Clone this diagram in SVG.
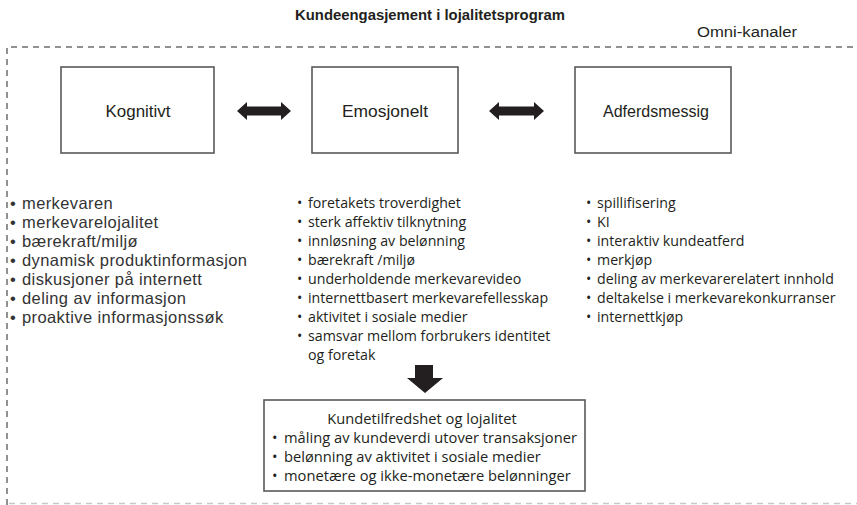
<svg xmlns="http://www.w3.org/2000/svg" width="857" height="505" viewBox="0 0 857 505">
<style>
.bg{fill:#ffffff}
.box{fill:#ffffff;stroke:#58595b;stroke-width:1.6}
.title{font-family:"Liberation Sans Narrow","Liberation Sans",Arial,sans-serif;font-weight:bold;font-size:14.5px;fill:#231f20}
.cond{font-family:"Liberation Sans Narrow","Liberation Sans",Arial,sans-serif;font-size:17px;fill:#231f20}
.omni{font-family:"Liberation Sans Narrow","Liberation Sans",Arial,sans-serif;font-size:15.5px;fill:#231f20}
.lst1{font-family:"Liberation Sans",Arial,sans-serif;font-size:16.5px;letter-spacing:0.4px;fill:#333333}
.lst{font-family:"Open Sans","Noto Sans",sans-serif;font-size:14.2px;fill:#231f20}
.lstb{font-family:"Open Sans","Noto Sans",sans-serif;font-size:14.7px;fill:#231f20}
.arr{fill:#231f20}
.dash{fill:none;stroke:#6d6e71;stroke-width:1.5;stroke-dasharray:6,5}
.dashl{fill:none;stroke:#c8c8c8;stroke-width:1.5;stroke-dasharray:6,5}
</style>
<rect class="bg" x="0" y="0" width="857" height="505"/>
<text class="title" x="430" y="20" text-anchor="middle" textLength="270" lengthAdjust="spacingAndGlyphs">Kundeengasjement i lojalitetsprogram</text>
<g id="frame">
<path class="dash" d="M7,505 L7,47 L857,47"/>
<path class="dashl" d="M9,503.5 L857,503.5"/>
<text class="omni" x="747" y="37" text-anchor="middle" textLength="100" lengthAdjust="spacingAndGlyphs">Omni-kanaler</text>
</g>
<g id="kognitivt">
<rect class="box" x="61" y="67" width="153" height="86"/>
<text class="cond" x="138" y="117" text-anchor="middle" textLength="65" lengthAdjust="spacingAndGlyphs">Kognitivt</text>
</g>
<g id="emosjonelt">
<rect class="box" x="312" y="67" width="146" height="86"/>
<text class="cond" x="385" y="117" text-anchor="middle" textLength="86" lengthAdjust="spacingAndGlyphs">Emosjonelt</text>
</g>
<g id="adferdsmessig">
<rect class="box" x="575" y="67" width="156" height="86"/>
<text class="cond" x="656" y="117" text-anchor="middle" textLength="106" lengthAdjust="spacingAndGlyphs">Adferdsmessig</text>
</g>
<g id="connectors">
<path class="arr" d="M237,111 L247,102 L247,106.5 L281,106.5 L281,102 L291,111 L281,120 L281,115.5 L247,115.5 L247,120 Z"/>
<path class="arr" d="M489,111 L499,102 L499,106.5 L534,106.5 L534,102 L544,111 L534,120 L534,115.5 L499,115.5 L499,120 Z"/>
<path class="arr" d="M415,365 L433,365 L433,378 L443,378 L425,393 L407,378 L415,378 Z"/>
</g>
<g id="kognitiv-liste" class="lst1">
<text x="10" y="209">•</text><text x="22" y="209">merkevaren</text>
<text x="10" y="228">•</text><text x="22" y="228">merkevarelojalitet</text>
<text x="10" y="247">•</text><text x="22" y="247">bærekraft/miljø</text>
<text x="10" y="266">•</text><text x="22" y="266">dynamisk produktinformasjon</text>
<text x="10" y="285">•</text><text x="22" y="285">diskusjoner på internett</text>
<text x="10" y="304">•</text><text x="22" y="304">deling av informasjon</text>
<text x="10" y="323">•</text><text x="22" y="323">proaktive informasjonssøk</text>
</g>
<g id="emosjonell-liste" class="lst">
<text x="297" y="208">•</text><text x="308" y="208">foretakets troverdighet</text>
<text x="297" y="227">•</text><text x="308" y="227">sterk affektiv tilknytning</text>
<text x="297" y="246">•</text><text x="308" y="246">innløsning av belønning</text>
<text x="297" y="265">•</text><text x="308" y="265">bærekraft /miljø</text>
<text x="297" y="284">•</text><text x="308" y="284">underholdende merkevarevideo</text>
<text x="297" y="303">•</text><text x="308" y="303">internettbasert merkevarefellesskap</text>
<text x="297" y="322">•</text><text x="308" y="322">aktivitet i sosiale medier</text>
<text x="297" y="341">•</text><text x="308" y="341">samsvar mellom forbrukers identitet</text>
<text x="308" y="360">og foretak</text>
</g>
<g id="adferd-liste" class="lst">
<text x="586" y="208">•</text><text x="597" y="208">spillifisering</text>
<text x="586" y="227">•</text><text x="597" y="227">KI</text>
<text x="586" y="246">•</text><text x="597" y="246">interaktiv kundeatferd</text>
<text x="586" y="265">•</text><text x="597" y="265">merkjøp</text>
<text x="586" y="284">•</text><text x="597" y="284">deling av merkevarerelatert innhold</text>
<text x="586" y="303">•</text><text x="597" y="303">deltakelse i merkevarekonkurranser</text>
<text x="586" y="322">•</text><text x="597" y="322">internettkjøp</text>
</g>
<g id="kundetilfredshet">
<rect class="box" x="264" y="400" width="321" height="91"/>
<text class="lstb" x="422" y="424" text-anchor="middle">Kundetilfredshet og lojalitet</text>
<text class="lstb" x="272" y="443">•</text><text class="lstb" x="284" y="443">måling av kundeverdi utover transaksjoner</text>
<text class="lstb" x="272" y="462">•</text><text class="lstb" x="284" y="462">belønning av aktivitet i sosiale medier</text>
<text class="lstb" x="272" y="481">•</text><text class="lstb" x="284" y="481">monetære og ikke-monetære belønninger</text>
</g>
</svg>
